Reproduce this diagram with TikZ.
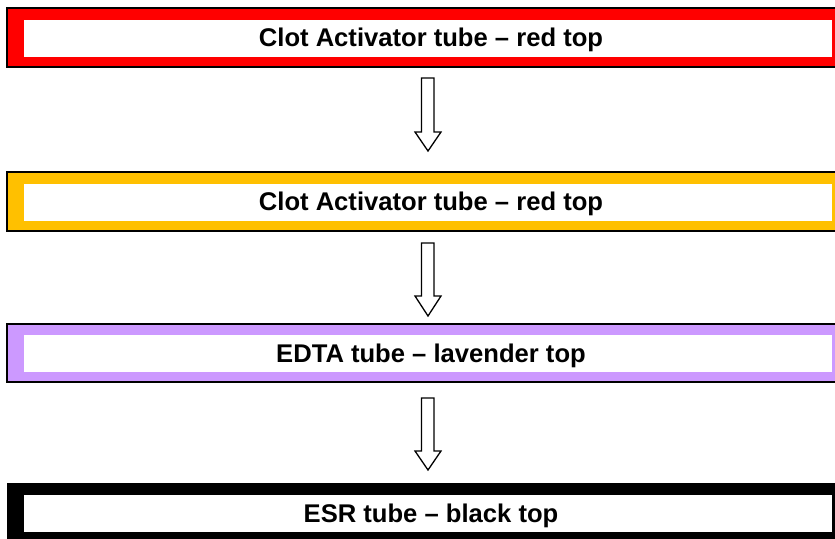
\documentclass[tikz,border=0pt]{standalone}
\usepackage{fontspec}
\setmainfont{Liberation Sans}
\definecolor{tubered}{RGB}{255,0,0}
\definecolor{tubeyellow}{RGB}{255,192,0}
\definecolor{tubelav}{RGB}{204,153,255}
\begin{document}
\begin{tikzpicture}[x=1pt,y=-1pt,
  outerbox/.style={draw=black,line width=1.3pt},
  label/.style={font=\bfseries\fontsize{25.6}{28}\selectfont,text=black,inner sep=0pt},
  blockarrow/.style={draw=black,fill=white,line width=1.3pt,line join=miter}]
\useasboundingbox (0,0) rectangle (835,538);
% Box 1
\fill[tubered] (7,8) rectangle (840,67);
\draw[outerbox] (7,8) rectangle (840,67);
\fill[white] (24,20) rectangle (832,57);
\node[label] (t1) at (431,40) {Clot Activator tube – red top};
% Box 2
\fill[tubeyellow] (7,172) rectangle (840,231);
\draw[outerbox] (7,172) rectangle (840,231);
\fill[white] (24,184) rectangle (832,221);
\node[label] (t2) at (431,204) {Clot Activator tube – red top};
% Box 3
\fill[tubelav] (7,324) rectangle (840,382);
\draw[outerbox] (7,324) rectangle (840,382);
\fill[white] (24,335) rectangle (832,372);
\node[label] (t3) at (431,355.5) {EDTA tube – lavender top};
% Box 4
\fill[black] (7,483) rectangle (840,545);
\fill[white] (24,495) rectangle (832,532);
\node[label] (t4) at (431,515.5) {ESR tube – black top};
% arrows
\foreach \top/\ht/\tip in {78/132/151, 243/296/316, 398/451/470}{
  \draw[blockarrow] (421.5,\top) -- (434,\top) -- (434,\ht) -- (441,\ht) -- (428,\tip)
     -- (415,\ht) -- (421.5,\ht) -- cycle;
}
\end{tikzpicture}
\end{document}
